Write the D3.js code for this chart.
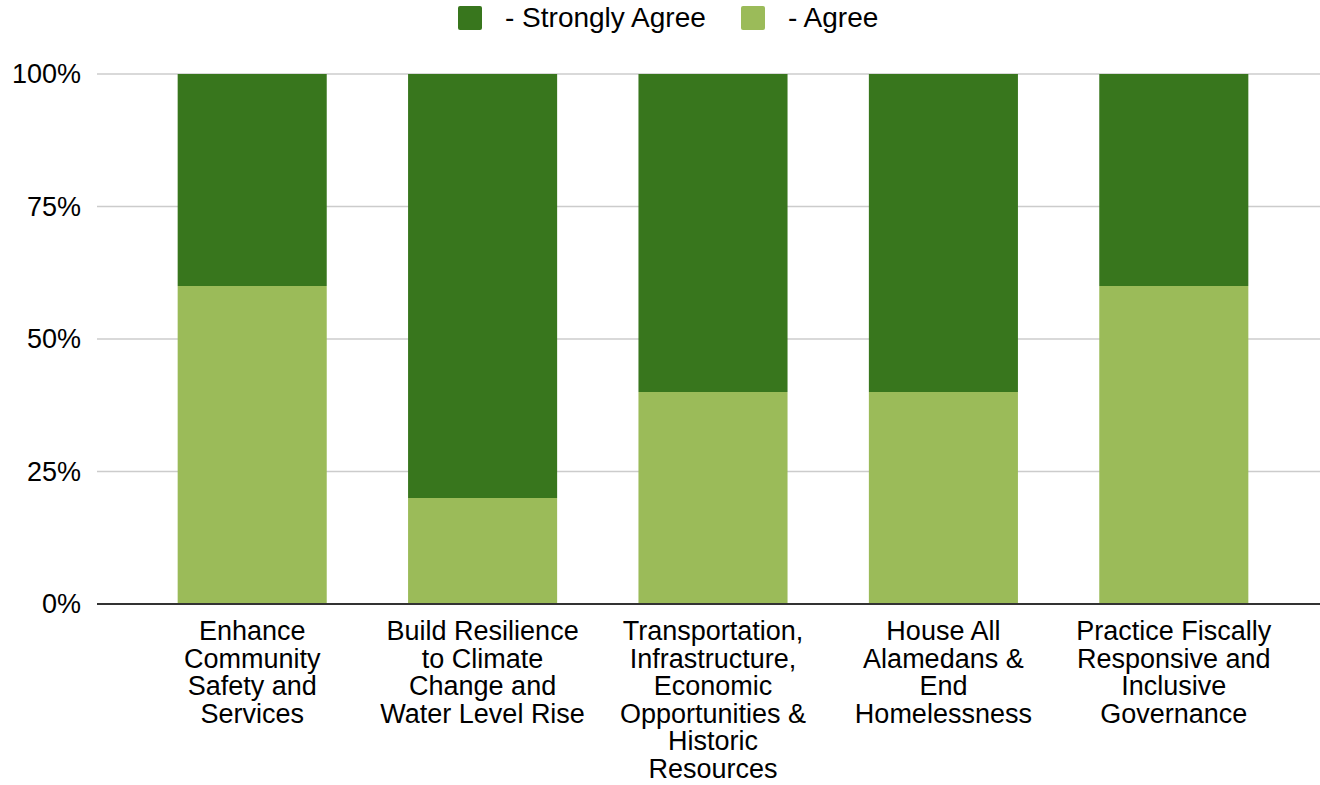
<!DOCTYPE html>
<html>
<head>
<meta charset="utf-8">
<script src="https://cdn.jsdelivr.net/npm/d3@7"></script>
<style>
  body { margin: 0; background: #fff; }
  text { font-family: "Liberation Sans", Arial, sans-serif; fill: #000; }
</style>
</head>
<body>
<div id="chart"></div>
<script>
// category labels, already split into the lines shown under each bar
var categories = [
  ["Enhance", "Community", "Safety and", "Services"],
  ["Build Resilience", "to Climate", "Change and", "Water Level Rise"],
  ["Transportation,", "Infrastructure,", "Economic", "Opportunities &", "Historic", "Resources"],
  ["House All", "Alamedans &", "End", "Homelessness"],
  ["Practice Fiscally", "Responsive and", "Inclusive", "Governance"]
];
var agree = [60, 20, 40, 40, 60];
var strongly_agree = [40, 80, 60, 60, 40];
var series_names = ["- Strongly Agree", "- Agree"];
var y_ticks = [0, 25, 50, 75, 100];

var width = 1320, height = 785;
var dark = "#38761d", light = "#9bbb59";

var svg = d3.select("#chart").append("svg")
    .attr("width", width)
    .attr("height", height);

var x = d3.scaleBand()
    .domain(d3.range(categories.length))
    .range([137, 1289])
    .paddingInner(0.353)
    .paddingOuter(0.1765);

var y = d3.scaleLinear()
    .domain([0, 100])
    .range([604, 74]);

// gridlines
svg.append("g").selectAll("line")
    .data(y_ticks.filter(function(d) { return d > 0; }))
    .enter().append("line")
    .attr("x1", 97).attr("x2", 1320)
    .attr("y1", function(d) { return y(d); })
    .attr("y2", function(d) { return y(d); })
    .attr("stroke", "#cccccc")
    .attr("stroke-width", 1.5);

// y tick labels
svg.append("g").selectAll("text")
    .data(y_ticks)
    .enter().append("text")
    .attr("x", 81)
    .attr("y", function(d) { return y(d) + 9; })
    .attr("text-anchor", "end")
    .style("font-size", "27px")
    .text(function(d) { return d + "%"; });

// stacked bars
var rows = categories.map(function(c, i) {
  return { i: i, agree: agree[i], strongly: strongly_agree[i] };
});
var stack = d3.stack().keys(["agree", "strongly"])(rows);
var colors = { agree: light, strongly: dark };

svg.append("g").selectAll("g")
    .data(stack)
    .enter().append("g")
    .attr("fill", function(s) { return colors[s.key]; })
    .selectAll("rect")
    .data(function(s) { return s; })
    .enter().append("rect")
    .attr("x", function(d) { return x(d.data.i); })
    .attr("width", x.bandwidth())
    .attr("y", function(d) { return y(d[1]); })
    .attr("height", function(d) { return y(d[0]) - y(d[1]); });

// baseline
svg.append("line")
    .attr("x1", 97).attr("x2", 1320)
    .attr("y1", y(0)).attr("y2", y(0))
    .attr("stroke", "#333333")
    .attr("stroke-width", 2);

// category labels
var labels = svg.append("g").selectAll("text")
    .data(categories)
    .enter().append("text")
    .attr("text-anchor", "middle")
    .style("font-size", "27px")
    .attr("transform", function(d, i) {
      return "translate(" + (x(i) + x.bandwidth() / 2) + ",640)";
    });
labels.selectAll("tspan")
    .data(function(d) { return d; })
    .enter().append("tspan")
    .attr("x", 0)
    .attr("y", function(d, j) { return j * 27.6; })
    .text(function(d) { return d; });

// legend
var legend_pos = [458, 741];
var legend = svg.append("g").selectAll("g")
    .data(series_names)
    .enter().append("g")
    .attr("transform", function(d, i) { return "translate(" + legend_pos[i] + ",6)"; });
legend.append("rect")
    .attr("width", 24).attr("height", 24)
    .attr("rx", 2)
    .attr("fill", function(d, i) { return i === 0 ? dark : light; });
legend.append("text")
    .attr("x", 47).attr("y", 21)
    .style("font-size", "28px")
    .text(function(d) { return d; });
</script>
</body>
</html>
